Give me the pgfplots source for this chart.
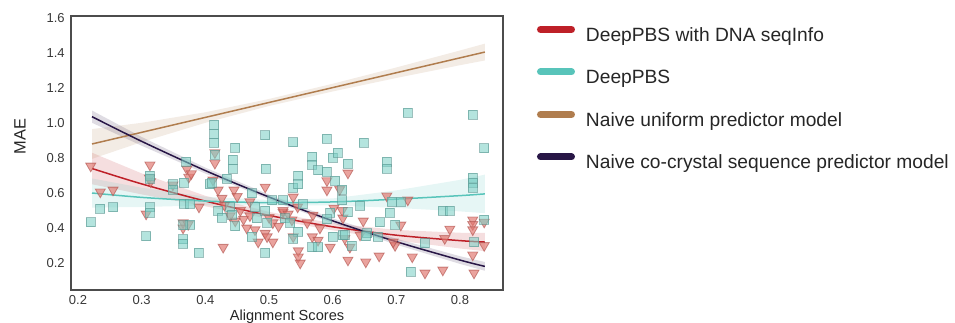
\documentclass[border=0pt]{standalone}
\usepackage{pgfplots}
\pgfplotsset{compat=1.18}
\usepackage{fontspec}
\setmainfont{Liberation Sans}
\definecolor{cred}{RGB}{190,32,40}
\definecolor{cteal}{RGB}{88,196,186}
\definecolor{cbrown}{RGB}{176,125,78}
\definecolor{cpurple}{RGB}{40,22,70}
\definecolor{trifill}{RGB}{224,120,112}
\definecolor{triedge}{RGB}{175,80,75}
\definecolor{sqfill}{RGB}{125,208,198}
\definecolor{sqedge}{RGB}{90,150,145}
\begin{document}
\begin{tikzpicture}
\begin{axis}[
  at={(35.5pt,16pt)}, anchor=south west,
  width=216pt, height=137pt, scale only axis,
  xmin=0.189, xmax=0.8675, ymin=0.046, ymax=1.611,
  axis line style={draw=black!70, line width=0.8pt},
  major tick length=0pt,
  xtick={0.2,0.3,0.4,0.5,0.6,0.7,0.8},
  ytick={0.2,0.4,0.6,0.8,1.0,1.2,1.4,1.6},
  /pgf/number format/assume math mode=true,
  /pgf/number format/.cd, fixed, fixed zerofill, precision=1, /pgfplots/.cd,
  ticklabel style={font=\fontsize{6.5}{7.5}\selectfont, text=black!78},
  yticklabel style={inner sep=0pt, xshift=-3pt},
  xticklabel style={inner sep=0pt, yshift=-2.5pt},
  xlabel={Alignment Scores}, ylabel={MAE},
  label style={font=\fontsize{7.3}{8.5}\selectfont, text=black!85},
  xlabel style={at={(axis description cs:0.5,-0.113)}, anchor=base},
  ylabel style={at={(axis description cs:-0.118,0.56)}, anchor=center, font=\fontsize{8.2}{9.5}\selectfont},
  legend style={at={(1.0787,0.9635)}, anchor=north west, draw=none, fill=none,
    inner sep=0pt, outer sep=0pt, row sep=11.6pt, column sep=5.5pt,
    font=\fontsize{9.6}{11}\selectfont, text=black!85,
    nodes={inner sep=0pt, text height=7pt, text depth=2pt}},
  legend cell align=left,
]
% ---- scatter: DeepPBS with DNA seqInfo (triangles)
\addplot[only marks, forget plot, mark=triangle*, mark size=2.9pt,
  mark options={rotate=180, fill=trifill, fill opacity=0.68, draw=triedge, draw opacity=0.6, line width=0.4pt}]
coordinates {
(0.220,0.754)(0.235,0.606)(0.255,0.617)(0.313,0.76)(0.312,0.686)(0.314,0.665)(0.307,0.48)
(0.349,0.646)(0.371,0.737)(0.374,0.69)(0.378,0.71)(0.365,0.43)(0.365,0.40)(0.39,0.52)(0.428,0.29)
(0.415,0.83)(0.415,0.77)(0.412,0.674)(0.42,0.617)(0.426,0.57)(0.445,0.617)(0.439,0.47)(0.447,0.44)
(0.494,0.634)(0.47,0.55)(0.506,0.43)(0.478,0.39)(0.494,0.37)(0.483,0.32)(0.506,0.32)(0.497,0.35)
(0.522,0.49)(0.373,0.42)(0.624,0.714)(0.591,0.67)(0.591,0.617)(0.611,0.62)(0.538,0.577)(0.522,0.50)
(0.602,0.514)(0.615,0.50)(0.569,0.474)(0.616,0.457)(0.648,0.44)(0.536,0.446)(0.58,0.40)(0.538,0.35)
(0.568,0.35)(0.577,0.33)(0.596,0.29)(0.619,0.34)(0.627,0.29)(0.643,0.36)(0.546,0.27)(0.546,0.235)
(0.549,0.20)(0.624,0.217)(0.652,0.206)(0.673,0.24)(0.685,0.583)(0.718,0.56)(0.707,0.417)(0.784,0.394)
(0.776,0.34)(0.82,0.446)(0.82,0.42)(0.82,0.39)(0.838,0.434)(0.838,0.30)(0.698,0.30)(0.725,0.235)
(0.745,0.143)(0.773,0.16)(0.82,0.246)(0.822,0.143)(0.695,0.32)(0.455,0.50)(0.46,0.45)(0.47,0.47)
(0.50,0.46)(0.515,0.41)(0.53,0.48)(0.545,0.52)(0.56,0.43)(0.43,0.53)(0.45,0.58)(0.465,0.40)
};
% ---- scatter: DeepPBS (squares)
\addplot[only marks, forget plot, mark=square*, mark size=2.25pt,
  mark options={fill=sqfill, fill opacity=0.58, draw=sqedge, draw opacity=0.6, line width=0.4pt}]
coordinates {
(0.220,0.434)(0.235,0.51)(0.255,0.52)(0.313,0.52)(0.313,0.486)(0.313,0.70)(0.313,0.68)(0.307,0.354)
(0.349,0.65)(0.349,0.62)(0.366,0.66)(0.370,0.78)(0.366,0.54)(0.376,0.54)(0.365,0.337)(0.365,0.31)
(0.376,0.42)(0.365,0.417)(0.390,0.26)(0.407,0.65)(0.414,0.99)(0.414,0.94)(0.414,0.886)(0.415,0.82)
(0.447,0.86)(0.443,0.79)(0.443,0.74)(0.494,0.93)(0.495,0.74)(0.538,0.89)(0.568,0.806)(0.568,0.76)
(0.591,0.91)(0.60,0.80)(0.577,0.73)(0.591,0.72)(0.608,0.83)(0.546,0.70)(0.538,0.63)(0.494,0.26)
(0.41,0.66)(0.434,0.68)(0.473,0.60)(0.505,0.56)(0.522,0.56)(0.42,0.50)(0.426,0.46)(0.439,0.52)
(0.442,0.475)(0.447,0.41)(0.478,0.52)(0.481,0.456)(0.494,0.50)(0.497,0.43)(0.473,0.35)(0.525,0.456)
(0.649,0.886)(0.624,0.766)(0.604,0.67)(0.546,0.65)(0.615,0.62)(0.553,0.536)(0.615,0.56)(0.643,0.526)
(0.624,0.49)(0.596,0.486)(0.591,0.45)(0.674,0.434)(0.533,0.43)(0.546,0.38)(0.538,0.34)(0.568,0.29)
(0.577,0.29)(0.60,0.35)(0.616,0.36)(0.63,0.30)(0.654,0.37)(0.671,0.35)(0.718,1.057)(0.82,1.046)
(0.838,0.857)(0.685,0.78)(0.685,0.74)(0.82,0.686)(0.82,0.66)(0.82,0.63)(0.693,0.55)(0.707,0.55)
(0.69,0.486)(0.773,0.50)(0.784,0.50)(0.838,0.446)(0.698,0.42)(0.619,0.36)(0.652,0.354)(0.745,0.314)
(0.822,0.32)(0.723,0.15)
};
% ---- bands
\addplot[forget plot, draw=none, fill=cred, fill opacity=0.15] coordinates {
(0.222,0.830)(0.3,0.712)(0.4,0.584)(0.5,0.492)(0.6,0.427)(0.7,0.389)(0.8,0.373)(0.839,0.372)
(0.839,0.268)(0.8,0.283)(0.7,0.329)(0.6,0.387)(0.5,0.452)(0.4,0.524)(0.3,0.592)(0.222,0.650)} --cycle;
\addplot[forget plot, draw=none, fill=cteal, fill opacity=0.15] coordinates {
(0.222,0.683)(0.3,0.630)(0.4,0.579)(0.5,0.560)(0.6,0.569)(0.7,0.615)(0.8,0.675)(0.839,0.705)
(0.839,0.485)(0.8,0.495)(0.7,0.515)(0.6,0.529)(0.5,0.530)(0.4,0.529)(0.3,0.520)(0.222,0.517)} --cycle;
\addplot[forget plot, draw=none, fill=cbrown, fill opacity=0.15] coordinates {
(0.222,0.965)(0.3,1.001)(0.4,1.061)(0.5,1.137)(0.6,1.224)(0.7,1.317)(0.8,1.414)(0.839,1.453)
(0.839,1.357)(0.8,1.330)(0.7,1.257)(0.6,1.180)(0.5,1.097)(0.4,1.001)(0.3,0.891)(0.222,0.795)} --cycle;
\addplot[forget plot, draw=none, fill=cpurple, fill opacity=0.15] coordinates {
(0.222,1.071)(0.3,0.920)(0.4,0.745)(0.5,0.591)(0.6,0.455)(0.7,0.339)(0.8,0.239)(0.839,0.206)
(0.839,0.156)(0.8,0.195)(0.7,0.305)(0.6,0.427)(0.5,0.563)(0.4,0.711)(0.3,0.870)(0.222,1.001)} --cycle;
% ---- regression lines
\addplot[forget plot, smooth, cred, line width=0.75pt] coordinates {
(0.222,0.740)(0.3,0.652)(0.4,0.554)(0.5,0.472)(0.6,0.407)(0.7,0.359)(0.8,0.328)(0.839,0.320)};
\addplot[forget plot, smooth, cteal, line width=0.75pt] coordinates {
(0.222,0.600)(0.3,0.575)(0.4,0.554)(0.5,0.545)(0.6,0.549)(0.7,0.565)(0.8,0.585)(0.839,0.595)};
\addplot[forget plot, cbrown, line width=0.75pt] coordinates {
(0.222,0.880)(0.5,1.117)(0.839,1.405)};
\addplot[forget plot, smooth, cpurple, line width=0.75pt] coordinates {
(0.222,1.036)(0.3,0.895)(0.4,0.728)(0.5,0.577)(0.6,0.441)(0.7,0.322)(0.8,0.217)(0.839,0.181)};
% ---- legend
\addlegendimage{legend image code/.code={\draw[cred, line width=3.5pt, line cap=round] (1.75pt,3.4pt) -- (17.25pt,3.4pt);}}
\addlegendentry{DeepPBS with DNA seqInfo}
\addlegendimage{legend image code/.code={\draw[cteal, line width=3.5pt, line cap=round] (1.75pt,3.4pt) -- (17.25pt,3.4pt);}}
\addlegendentry{DeepPBS}
\addlegendimage{legend image code/.code={\draw[cbrown, line width=3.5pt, line cap=round] (1.75pt,3.4pt) -- (17.25pt,3.4pt);}}
\addlegendentry{Naive uniform predictor model}
\addlegendimage{legend image code/.code={\draw[cpurple, line width=3.5pt, line cap=round] (1.75pt,3.4pt) -- (17.25pt,3.4pt);}}
\addlegendentry{Naive co-crystal sequence predictor model}
\end{axis}
\pgfresetboundingbox
\path[use as bounding box] (0,0) rectangle (477.5pt,161pt);
\end{tikzpicture}
\end{document}
